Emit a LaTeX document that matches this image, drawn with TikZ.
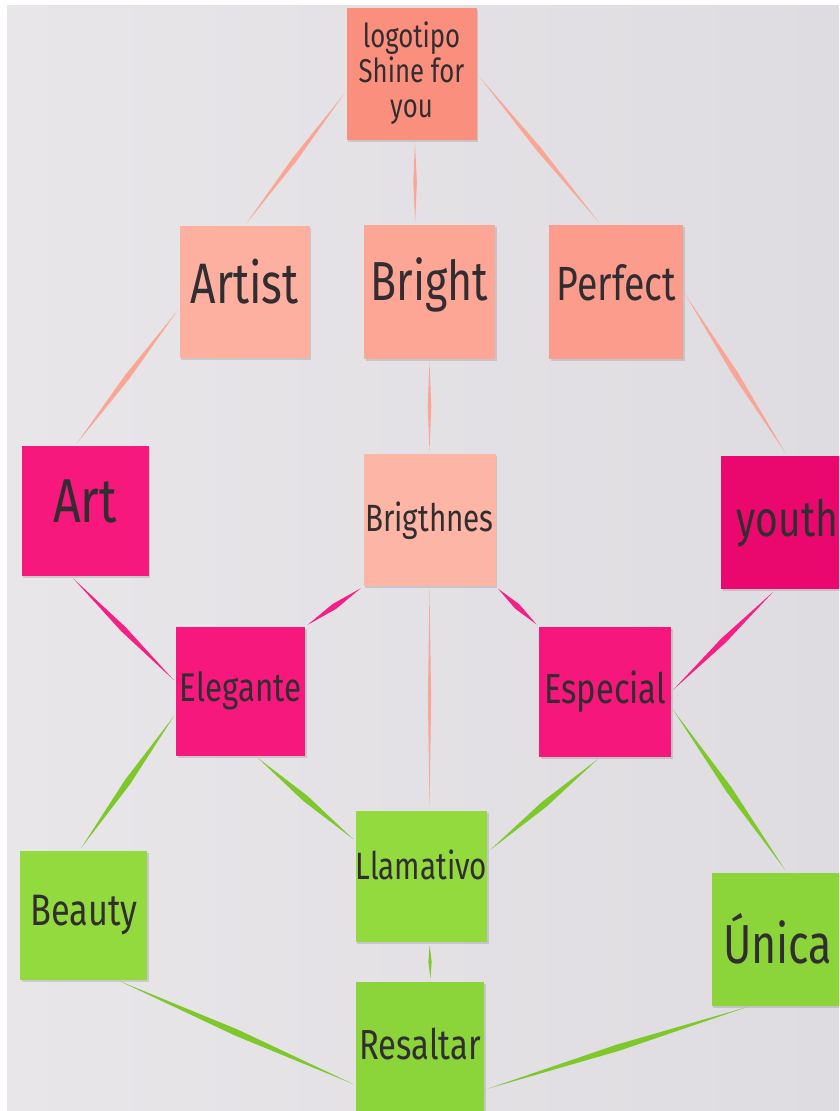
\documentclass[tikz,border=0pt]{standalone}
\usepackage{fontspec}
\setmainfont{Fira Sans}[FakeStretch=0.78]
\usetikzlibrary{positioning,calc,shadows}

\definecolor{board}{RGB}{232,230,233}
\definecolor{boardR}{RGB}{222,220,224}
\definecolor{ink}{RGB}{50,45,48}
\definecolor{coral}{RGB}{251,143,126}
\definecolor{peach}{RGB}{253,176,160}
\definecolor{peachB}{RGB}{253,166,150}
\definecolor{peachP}{RGB}{252,156,140}
\definecolor{peachL}{RGB}{253,182,165}
\definecolor{rose}{RGB}{246,24,124}
\definecolor{roseD}{RGB}{234,8,111}
\definecolor{lime}{RGB}{146,218,62}
\definecolor{limeD}{RGB}{139,212,58}
\definecolor{peachline}{RGB}{250,166,150}
\definecolor{roseline}{RGB}{244,32,132}
\definecolor{limeline}{RGB}{126,200,44}

\begin{document}
\begin{tikzpicture}[
    x=1pt, y=-1pt,
    note/.style={
        minimum width=130pt,
        minimum height=132pt,
        inner sep=0pt,
        align=center,
        text=ink,
        drop shadow={shadow xshift=1.5pt, shadow yshift=-2pt, opacity=0.12, fill=black}
    },
    peachnote/.style={note, fill=peach},
    rosenote/.style={note, fill=rose},
    limenote/.style={note, fill=lime},
    hand/.style={font=\fontsize{#1}{#1}\selectfont},
    taper/.default=2.8pt,
    taper/.style={
        to path={
            ($(\tikztostart)!3pt!(\tikztotarget)$)
            -- ($(\tikztostart)!0.5!(\tikztotarget)!#1!90:(\tikztotarget)$)
            -- ($(\tikztotarget)!3pt!(\tikztostart)$)
            -- ($(\tikztostart)!0.5!(\tikztotarget)!#1!-90:(\tikztotarget)$)
            -- cycle
        }
    }
]

\useasboundingbox (0,0) rectangle (839,1111);
\clip (0,0) rectangle (839,1111);
\fill[white] (0,0) rectangle (839,1111);
\shade[left color=board, right color=boardR] (7,5) rectangle (839,1111);

% top rows
\node[peachnote, fill=coral, font=\fontsize{33}{35}\selectfont] (logo) at (411.5,73.5) {logotipo\\Shine for\\you};
\node[peachnote, fill=peachB, minimum width=131pt, minimum height=134pt, below=85pt of logo, xshift=18pt, hand=55, text height=38pt, text depth=20pt] (bright) {Bright};
\node[peachnote, left=54pt of bright, hand=57, text height=39pt, text depth=16pt] (artist) {Artist};
\node[peachnote, fill=peachP, minimum width=134pt, minimum height=134pt, right=54pt of bright, hand=48, text height=33pt, text depth=16pt] (perfect) {Perfect};

% middle rows
\node[peachnote, fill=peachL, minimum width=132pt, below=95pt of bright, hand=38] (brightness) {Brigthnes};
\node[rosenote, minimum width=127pt, minimum height=130pt, left=214.5pt of brightness, yshift=9pt, hand=62, text height=43pt, text depth=20pt] (art) {Art};
\node[rosenote, fill=roseD, minimum width=132pt, minimum height=133pt, right=225.5pt of brightness, yshift=-2.5pt, hand=50] (youth) {youth};
\node[rosenote, minimum width=129pt, minimum height=129pt, below=40pt of brightness, xshift=-189pt, hand=40] (elegante) {Elegante};
\node[rosenote, fill=rose!95!roseD, minimum width=132pt, minimum height=130pt, below=40pt of brightness, xshift=175.5pt, hand=42] (especial) {Especial};

% bottom rows
\node[limenote, minimum width=131pt, minimum height=131pt, below=224pt of brightness, xshift=-8pt, hand=38, text height=26pt, text depth=20pt] (llamativo) {Llamativo};
\node[limenote, fill=limeD, minimum width=128pt, below=40pt of llamativo, xshift=-1.5pt, hand=42, text height=29pt, text depth=6pt] (resaltar) {Resaltar};
\node[limenote, minimum width=127pt, minimum height=129pt, left=208pt of llamativo, yshift=-39pt, hand=44] (beauty) {Beauty};
\node[limenote, fill=limeD, minimum width=132pt, minimum height=133pt, right=224pt of llamativo, yshift=-63pt, hand=55] (unica) {Única};

% strips
\fill[peachline, taper=2.5pt] (logo.195) to (artist.north);
\fill[peachline, taper=1.8pt] (logo.273) to (bright.102);
\fill[peachline, taper=2.5pt] (logo.east) to (perfect.103);
\fill[peachline, taper] (artist.194) to (art.99);
\fill[peachline, taper=1.8pt] (bright.south) to (brightness.north);
\fill[peachline, taper] (perfect.east) to (youth.north);
\fill[roseline, taper=3pt] (art.258) to (elegante.172);
\fill[roseline, taper=3pt] (brightness.south west) to (elegante.north east);
\fill[roseline, taper=3pt] (brightness.south east) to (especial.north west);
\fill[roseline, taper=3pt] (youth.260) to (especial.east);
\fill[peachline, taper=1.6pt] (brightness.south) to (llamativo.83);
\fill[limeline, taper=3.3pt] (elegante.199) to (beauty.94);
\fill[limeline, taper=3.3pt] (elegante.283) to (llamativo.152);
\fill[limeline, taper=3.3pt] (especial.266) to (llamativo.20);
\fill[limeline, taper=3.3pt] (especial.347) to (unica.82);
\fill[limeline, taper=1.6pt] (llamativo.277) to (resaltar.81);
\fill[limeline, taper=3.3pt] (beauty.297) to (resaltar.210);
\fill[limeline, taper=3.3pt] (unica.248) to (resaltar.327);
\end{tikzpicture}
\end{document}
